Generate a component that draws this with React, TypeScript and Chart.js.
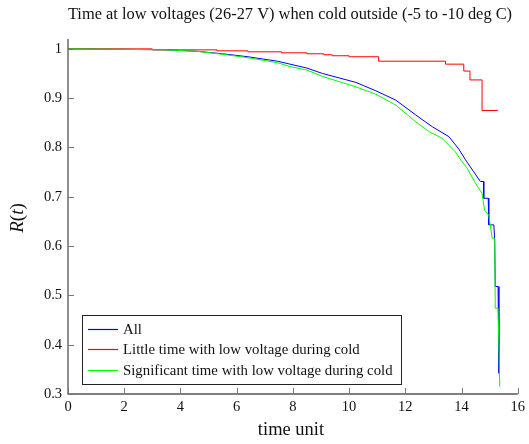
import React, { useEffect, useRef } from 'react';
import { Chart, registerables } from 'chart.js';

Chart.register(...registerables);

const chartTitle = 'Time at low voltages (26-27 V) when cold outside (-5 to -10 deg C)';
const xAxisTitle = 'time unit';
const seriesNames = [
  'All',
  'Little time with low voltage during cold',
  'Significant time with low voltage during cold',
];
const seriesColors = ['#0000ff', '#ff0000', '#00ff00'];

const xTicks = [0, 2, 4, 6, 8, 10, 12, 14, 16];
const yTicks = [0.3, 0.4, 0.5, 0.6, 0.7, 0.8, 0.9, 1];
const yTickLabels = ['0.3', '0.4', '0.5', '0.6', '0.7', '0.8', '0.9', '1'];

// "All"
const allX = [0, 2, 3.5, 4.6, 5.5, 6.4, 7.45, 7.9, 8.5, 9.06, 10.24, 10.95, 11.66, 12.37, 12.96, 13.55, 13.9, 14.14, 14.43, 14.67, 14.79, 14.79, 14.95, 14.97, 15.15, 15.18, 15.2, 15.3, 15.33];
const allY = [1, 0.999, 0.998, 0.995, 0.99, 0.984, 0.975, 0.969, 0.961, 0.95, 0.932, 0.915, 0.896, 0.866, 0.842, 0.822, 0.797, 0.775, 0.751, 0.731, 0.731, 0.697, 0.697, 0.643, 0.643, 0.612, 0.518, 0.518, 0.342];

// "Little time with low voltage during cold" (step function, value after each event)
const littleX = [0, 3, 5.3, 6.4, 7.6, 8.5, 9.1, 9.4, 10.0, 11.05, 13.43, 14.08, 14.3, 14.73, 15.29];
const littleY = [1, 0.998, 0.996, 0.994, 0.992, 0.99, 0.988, 0.986, 0.984, 0.975, 0.969, 0.955, 0.937, 0.875, 0.875];

// "Significant time with low voltage during cold"
const sigX = [0, 2, 3.5, 4.6, 5.5, 6.4, 7.45, 7.9, 8.5, 9.06, 10.24, 10.95, 11.66, 12.37, 12.85, 13.3, 13.78, 14.02, 14.2, 14.5, 14.73, 14.82, 14.97, 15.09, 15.18, 15.2, 15.3, 15.36];
const sigY = [1, 0.999, 0.998, 0.995, 0.989, 0.982, 0.972, 0.964, 0.957, 0.944, 0.923, 0.908, 0.886, 0.852, 0.832, 0.819, 0.791, 0.771, 0.758, 0.727, 0.707, 0.673, 0.663, 0.616, 0.616, 0.474, 0.474, 0.315];

const xMin = 0;
const xMax = 16;
const yMin = 0.3;
const yMax = 1.02;

const SERIF = '"Liberation Serif", "DejaVu Serif", serif';

const toPts = (xs: number[], ys: number[]) => xs.map((x, i) => ({ x, y: ys[i] }));

const decorPlugin = {
  id: 'decor',
  afterDraw(chart: any) {
    const { ctx, chartArea, scales } = chart;
    const xs = scales.x;
    const ys = scales.y;
    ctx.save();

    // axes lines
    ctx.strokeStyle = '#555';
    ctx.lineWidth = 1.3;
    ctx.beginPath();
    ctx.moveTo(chartArea.left, chartArea.top);
    ctx.lineTo(chartArea.left, chartArea.bottom);
    ctx.lineTo(chartArea.right, chartArea.bottom);
    ctx.stroke();

    // inward ticks
    ctx.strokeStyle = '#777';
    ctx.lineWidth = 1;
    ctx.beginPath();
    xTicks.forEach((v) => {
      const px = Math.round(xs.getPixelForValue(v)) + 0.5;
      ctx.moveTo(px, chartArea.bottom);
      ctx.lineTo(px, chartArea.bottom - 6);
    });
    yTicks.forEach((v) => {
      const py = Math.round(ys.getPixelForValue(v)) + 0.5;
      ctx.moveTo(chartArea.left, py);
      ctx.lineTo(chartArea.left + 6, py);
    });
    ctx.stroke();

    // title
    ctx.fillStyle = '#111';
    ctx.font = `16.4px ${SERIF}`;
    ctx.textAlign = 'center';
    ctx.textBaseline = 'alphabetic';
    ctx.fillText(chartTitle, 290, 19);

    // x axis title
    ctx.font = `18.5px ${SERIF}`;
    ctx.fillText(xAxisTitle, 291, 435);

    // y axis title R(t)
    ctx.save();
    ctx.translate(23, 218);
    ctx.rotate(-Math.PI / 2);
    const parts = [
      { t: 'R', f: `italic 19px ${SERIF}` },
      { t: '(', f: `19px ${SERIF}` },
      { t: 't', f: `italic 19px ${SERIF}` },
      { t: ')', f: `19px ${SERIF}` },
    ];
    let total = 0;
    parts.forEach((p) => {
      ctx.font = p.f;
      total += ctx.measureText(p.t).width;
    });
    let cx = -total / 2;
    ctx.textAlign = 'left';
    parts.forEach((p) => {
      ctx.font = p.f;
      ctx.fillText(p.t, cx, 0);
      cx += ctx.measureText(p.t).width;
    });
    ctx.restore();

    // legend
    const lx = 82.5;
    const ly = 315.5;
    const lw = 319;
    const lh = 69;
    ctx.fillStyle = '#fff';
    ctx.fillRect(lx, ly, lw, lh);
    ctx.strokeStyle = '#222';
    ctx.lineWidth = 1;
    ctx.strokeRect(lx, ly, lw, lh);
    ctx.font = `14.8px ${SERIF}`;
    ctx.textAlign = 'left';
    ctx.textBaseline = 'middle';
    for (let i = 0; i < seriesNames.length; i++) {
      const rowY = Math.round(328.5 + i * 20.5) + 0.5;
      ctx.save();
      ctx.lineWidth = 1.2;
      ctx.strokeStyle = seriesColors[i];
      ctx.beginPath();
      ctx.moveTo(88, rowY);
      ctx.lineTo(118, rowY);
      ctx.stroke();
      ctx.restore();
      ctx.fillStyle = '#111';
      ctx.fillText(seriesNames[i], 123, rowY + 1);
    }

    ctx.restore();
  },
};

export default function App() {
  const canvasRef = useRef<HTMLCanvasElement | null>(null);

  useEffect(() => {
    if (!canvasRef.current) return;
    const chart = new Chart(canvasRef.current, {
      type: 'line',
      data: {
        datasets: [
          {
            label: seriesNames[0],
            data: toPts(allX, allY),
            borderColor: seriesColors[0],
            borderWidth: 1,
            pointRadius: 0,
            tension: 0,
            fill: false,
            order: 2,
          },
          {
            label: seriesNames[1],
            data: toPts(littleX, littleY),
            borderColor: seriesColors[1],
            borderWidth: 1,
            pointRadius: 0,
            stepped: true,
            fill: false,
            order: 1,
          },
          {
            label: seriesNames[2],
            data: toPts(sigX, sigY),
            borderColor: seriesColors[2],
            borderWidth: 1,
            pointRadius: 0,
            tension: 0,
            fill: false,
            order: 0,
          },
        ],
      },
      options: {
        responsive: false,
        animation: false,
        events: [],
        layout: { padding: { top: 39, right: 10, bottom: 0, left: 0 } },
        plugins: {
          legend: { display: false },
          title: { display: false },
          tooltip: { enabled: false },
        },
        scales: {
          x: {
            type: 'linear',
            min: xMin,
            max: xMax,
            border: { display: false },
            grid: { display: false, drawTicks: false },
            afterBuildTicks: (scale: any) => {
              scale.ticks = xTicks.map((v) => ({ value: v }));
            },
            afterFit: (scale: any) => {
              scale.height = 50;
            },
            ticks: {
              padding: 4,
              color: '#111',
              font: { family: SERIF, size: 14.5 },
              maxRotation: 0,
              callback: (v: any) => String(v),
            },
          },
          y: {
            type: 'linear',
            min: yMin,
            max: yMax,
            border: { display: false },
            grid: { display: false, drawTicks: false },
            afterBuildTicks: (scale: any) => {
              scale.ticks = yTicks.map((v) => ({ value: v }));
            },
            afterFit: (scale: any) => {
              scale.width = 68;
            },
            ticks: {
              padding: 6,
              color: '#111',
              font: { family: SERIF, size: 14.5 },
              callback: (v: any) => {
                const idx = yTicks.findIndex((t) => Math.abs(t - v) < 1e-9);
                return idx >= 0 ? yTickLabels[idx] : '';
              },
            },
          },
        },
      },
      plugins: [decorPlugin],
    } as any);
    return () => chart.destroy();
  }, []);

  return (
    <div style={{ position: 'absolute', left: 0, top: 0, width: 529, height: 444 }}>
      <canvas ref={canvasRef} width={529} height={444} style={{ display: 'block' }} />
    </div>
  );
}
